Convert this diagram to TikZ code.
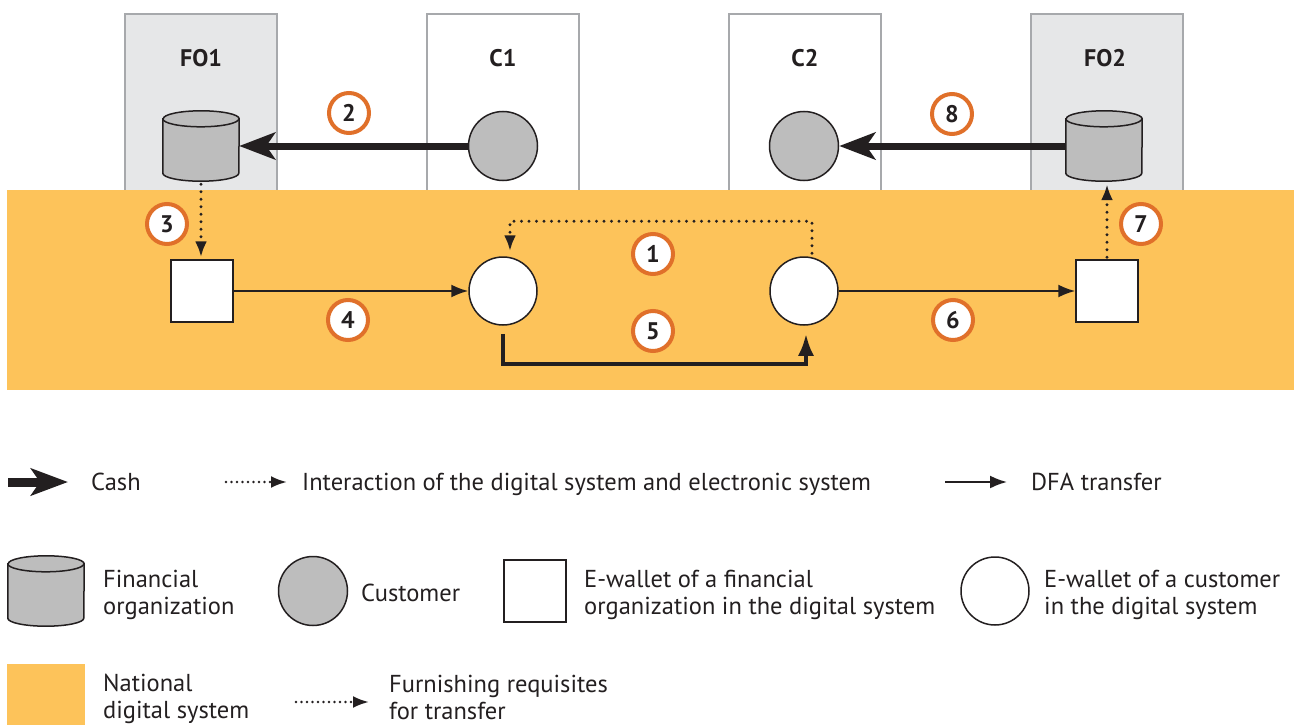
\documentclass[tikz,border=0pt]{standalone}
\usepackage{fontspec}
\setmainfont{PT Sans}
\usetikzlibrary{arrows.meta,calc}
\definecolor{band}{HTML}{FDC35A}
\definecolor{ring}{HTML}{E0702A}
\definecolor{ink}{HTML}{231F20}
\definecolor{boxgray}{HTML}{E6E7E8}
\definecolor{edgegray}{HTML}{A7A9AC}
\definecolor{objgray}{HTML}{BDBDBD}
\newcommand\cylnode[3]{%
  \node[inner sep=0,minimum width=76,minimum height=70] (#1) at (#2,#3) {};
  \filldraw[cylst] ($(#1.north west)+(0,-8)$) -- ($(#1.south west)+(0,8)$)
    arc[start angle=180,end angle=360,x radius=38,y radius=8]
    -- ($(#1.north east)+(0,-8)$)
    arc[start angle=0,end angle=180,x radius=38,y radius=8] -- cycle;
  \draw[cylst,fill=none] ($(#1.north west)+(0,-8)$)
    arc[start angle=180,end angle=360,x radius=38,y radius=8];}
\begin{document}
\begin{tikzpicture}[x=1pt,y=1pt,
  orgbox/.style={draw=edgegray,line width=2.5pt,fill=boxgray,minimum width=152,minimum height=177,anchor=north,inner sep=0},
  custbox/.style={orgbox,fill=white},
  boxlabel/.style={font=\fontsize{24}{24}\selectfont\bfseries,text=ink},
  cylst/.style={draw=ink,line width=1.5pt,fill=objgray},
  cust/.style={circle,draw=ink,line width=1.5pt,fill=objgray,minimum size=69,inner sep=0},
  wallet/.style={circle,draw=ink,line width=1.5pt,fill=white,minimum size=68,inner sep=0},
  fowallet/.style={rectangle,draw=ink,line width=1.5pt,fill=white,minimum width=62,minimum height=62,inner sep=0},
  num/.style={circle,draw=ring,line width=4pt,fill=white,minimum size=40,inner sep=0,font=\fontsize{24}{24}\selectfont\bfseries,text=ink},
  cash/.style={draw=ink,line width=7pt,-{Stealth[length=36pt,width=27pt,inset=9pt]}},
  cashlg/.style={draw=ink,line width=9pt,-{Stealth[length=37pt,width=27pt,inset=9pt]}},
  thin/.style={draw=ink,line width=2pt,-{Latex[length=17pt,width=13pt]}},
  dots/.style={draw=ink,line width=3.2pt,line cap=round,dash pattern=on 0pt off 7.5pt,-{Latex[length=16pt,width=12pt]}},
  dotslg/.style={dots,line width=2.6pt,dash pattern=on 0pt off 5.5pt},
  bold5/.style={draw=ink,line width=4pt,-{Latex[length=22pt,width=16pt]}},
  legtext/.style={font=\fontsize{24.5}{27}\selectfont,text=ink,inner sep=0,align=left}]
\useasboundingbox (0,0) rectangle (1294,-725);
% top boxes
\node[orgbox] (fo1box) at (201,-13) {};
\node[custbox] (c1box) at (503,-13) {};
\node[custbox] (c2box) at (805,-13) {};
\node[orgbox] (fo2box) at (1107,-13) {};
\node[boxlabel] (lfo1) at (201,-58) {FO1};
\node[boxlabel] (lc1) at (503,-58) {C1};
\node[boxlabel] (lc2) at (805,-58) {C2};
\node[boxlabel] (lfo2) at (1105,-58) {FO2};
% national digital system band
\node[fill=band,minimum width=1287,minimum height=200,anchor=north west,inner sep=0] (band) at (7,-190) {};
% objects
\cylnode{fo1}{201}{-146}
\cylnode{fo2}{1104}{-146}
\node[cust] (c1) at (503,-146) {};
\node[cust] (c2) at (804,-146) {};
\node[fowallet] (sq1) at (202,-291) {};
\node[fowallet] (sq2) at (1107,-291) {};
\node[wallet] (w1) at (503,-291) {};
\node[wallet] (w2) at (804,-291) {};
% connectors
\draw[cash] (c1.west) -- (c1.west -| fo1.east);
\draw[cash] (fo2.west |- c2.east) -- (c2.east);
\draw[dots,shorten <=3pt,shorten >=2pt] (fo1.south) -- (fo1.south |- sq1.north);
\draw[thin] (sq1.east |- w1.west) -- (w1.west);
\draw[dots] ([xshift=8pt,yshift=3pt]w2.north) -- ++(0,32) -| ([xshift=7pt,yshift=5pt]w1.north);
\draw[bold5] ([yshift=-8pt]w1.south) -- ++(0,-30) -| ([xshift=2pt,yshift=-8pt]w2.south);
\draw[thin] (w2.east) -- (w2.east -| sq2.west);
\draw[dots,shorten <=2pt,shorten >=3pt] (sq2.north) -- (sq2.north |- fo2.south);
% step numbers
\node[num] (n1) at (653,-254) {1};
\node[num] (n2) at (349,-113) {2};
\node[num] (n3) at (167,-224) {3};
\node[num] (n4) at (348,-320) {4};
\node[num] (n5) at (653,-331) {5};
\node[num] (n6) at (953,-320) {6};
\node[num] (n7) at (1141,-224) {7};
\node[num] (n8) at (952,-114) {8};
% legend row 1
\coordinate (lca) at (8,-482); \coordinate (lcb) at (68,-482);
\draw[cashlg] (lca) -- (lcb);
\node[legtext,anchor=base west] (tcash) at (91,-490) {Cash};
\coordinate (lda) at (226,-482); \coordinate (ldb) at (287,-482);
\draw[dotslg] (lda) -- (ldb);
\node[legtext,anchor=base west] (tint) at (302,-490) {Interaction of the digital system and electronic system};
\coordinate (lta) at (945,-482); \coordinate (ltb) at (1007,-482);
\draw[thin] (lta) -- (ltb);
\node[legtext,anchor=base west] (tdfa) at (1031,-490) {DFA transfer};
% legend row 2
\cylnode{lfo}{46}{-591}
\node[legtext,anchor=west] (tfo) at (103,-595) {Financial\\organization};
\node[cust] (lcust) at (313,-591) {};
\node[legtext,anchor=base west] (tcust) at (361,-601) {Customer};
\node[fowallet] (lsq) at (535,-591) {};
\node[legtext,anchor=west] (tsq) at (584,-595) {E-wallet of a financial\\organization in the digital system};
\node[wallet] (lw) at (995,-591) {};
\node[legtext,anchor=west] (tw) at (1044,-595) {E-wallet of a customer\\in the digital system};
% legend row 3
\node[fill=band,minimum width=78,minimum height=62,anchor=north west,inner sep=0] (lband) at (7,-664) {};
\node[legtext,anchor=west] (tband) at (103,-699) {National\\digital system};
\coordinate (lfa) at (296,-702); \coordinate (lfb) at (369,-702);
\draw[dotslg] (lfa) -- (lfb);
\node[legtext,anchor=west] (tfur) at (389,-697) {Furnishing requisites\\for transfer};
\end{tikzpicture}
\end{document}
